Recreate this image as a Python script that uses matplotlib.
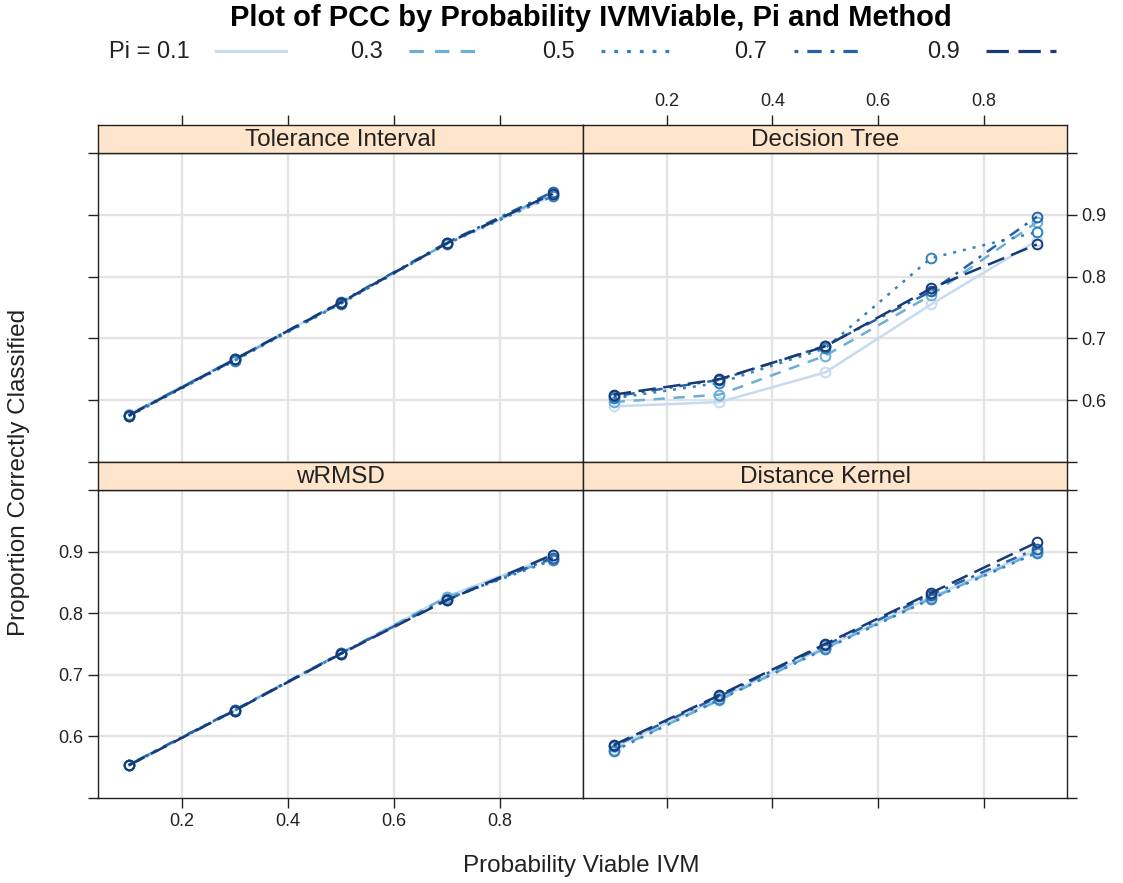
import numpy as np
import matplotlib
matplotlib.use("Agg")
import matplotlib.pyplot as plt
from matplotlib.lines import Line2D

plt.rcParams['font.family'] = ['Liberation Sans', 'DejaVu Sans']

# Данные
prob = [0.1, 0.3, 0.5, 0.7, 0.9]
pis = ['0.1', '0.3', '0.5', '0.7', '0.9']
methods = ['Tolerance Interval', 'Decision Tree', 'wRMSD', 'Distance Kernel']

pcc_ti = [[0.577, 0.667, 0.758, 0.853, 0.931],
          [0.575, 0.665, 0.757, 0.854, 0.934],
          [0.574, 0.664, 0.756, 0.853, 0.930],
          [0.576, 0.666, 0.759, 0.855, 0.937],
          [0.575, 0.666, 0.758, 0.854, 0.934]]
pcc_dt = [[0.590, 0.597, 0.645, 0.755, 0.858],
          [0.597, 0.609, 0.672, 0.770, 0.888],
          [0.603, 0.628, 0.684, 0.830, 0.872],
          [0.606, 0.633, 0.688, 0.776, 0.897],
          [0.609, 0.634, 0.687, 0.781, 0.852]]
pcc_wr = [[0.553, 0.642, 0.734, 0.827, 0.893],
          [0.554, 0.643, 0.735, 0.826, 0.888],
          [0.553, 0.642, 0.734, 0.823, 0.886],
          [0.554, 0.643, 0.735, 0.822, 0.890],
          [0.553, 0.642, 0.734, 0.821, 0.895]]
pcc_dk = [[0.582, 0.662, 0.745, 0.826, 0.902],
          [0.578, 0.659, 0.743, 0.824, 0.899],
          [0.576, 0.660, 0.742, 0.823, 0.898],
          [0.584, 0.665, 0.748, 0.830, 0.905],
          [0.586, 0.667, 0.750, 0.833, 0.915]]

colors = ['#c6dbef', '#6baed6', '#3182bd', '#2463a8', '#173a78']
dashes = [None, (4.5, 3.5), (1.2, 2.8), (1.2, 2.8, 4.5, 2.8), (7, 3)]
LW = 1.8

W, H = 1123, 883
fig = plt.figure(figsize=(W / 100, H / 100), dpi=100)

def fx(px):
    return px / W

def fy(py):
    return 1 - py / H

# Положение панелей (в пикселях)
cols = [(98, 583), (583, 1067)]
rows = [(153, 462), (490, 798)]
strip_h = 28

def style_line(ln, i):
    if dashes[i] is not None:
        ln.set_dashes(dashes[i])

panels = [(0, 0, pcc_ti), (0, 1, pcc_dt), (1, 0, pcc_wr), (1, 1, pcc_dk)]
for k, (r, c, data) in enumerate(panels):
    x0, x1 = cols[c]
    y0, y1 = rows[r]
    ax = fig.add_axes([fx(x0), fy(y1), fx(x1 - x0), (y1 - y0) / H])
    for i in range(len(pis)):
        ln, = ax.plot(prob, data[i], color=colors[i], lw=LW, marker='o',
                      markersize=7, markerfacecolor='none', markeredgewidth=1.4,
                      zorder=3 + i)
        style_line(ln, i)
    ax.set_xlim(0.042, 0.957)
    ax.set_ylim(0.5, 1.0)
    ax.set_xticks([0.2, 0.4, 0.6, 0.8])
    ax.set_yticks([0.6, 0.7, 0.8, 0.9])
    ax.set_yticks([0.5, 1.0], minor=True)
    ax.grid(True, color='#e3e3e3', lw=1.6, zorder=0)
    for s in ax.spines.values():
        s.set_linewidth(1.0)
        s.set_color('#222222')
    ax.tick_params(which='both', direction='out', length=7, width=1.0,
                   labelsize=13, colors='#222222',
                   bottom=False, top=False, left=False, right=False,
                   labelbottom=False, labelleft=False, labelright=False)
    if c == 0:
        ax.tick_params(which='both', left=True, labelleft=(r == 1))
    else:
        ax.tick_params(which='both', right=True, labelright=(r == 0))
    if r == 1:
        ax.tick_params(axis='x', bottom=True, labelbottom=(c == 0))
    ax.tick_params(axis='x', which='minor', bottom=False)

    # Полоса с названием метода
    sax = fig.add_axes([fx(x0), fy(y0), fx(x1 - x0), strip_h / H], sharex=ax)
    sax.set_facecolor('#ffe5cc')
    sax.set_yticks([])
    for s in sax.spines.values():
        s.set_linewidth(1.0)
        s.set_color('#222222')
    sax.tick_params(axis='x', direction='out', length=7, width=1.0, labelsize=13,
                    colors='#222222', bottom=False, labelbottom=False,
                    top=(r == 0), labeltop=(r == 0 and c == 1))
    sax.tick_params(axis='x', which='minor', top=False)
    sax.text(0.5, 0.45, methods[k], transform=sax.transAxes, ha='center',
             va='center', fontsize=17.5, color='#222222')

fig.text(fx(591), fy(18), 'Plot of PCC by Probability IVMViable, Pi and Method',
         ha='center', va='center', fontsize=21, fontweight='bold')
fig.text(fx(19), fy(472), 'Proportion Correctly Classified', rotation=90,
         ha='center', va='center', fontsize=17.5, color='#222222')
fig.text(fx(581), fy(866), 'Probability Viable IVM', ha='center', va='center',
         fontsize=17.5, color='#222222')

# Легенда
for i, p in enumerate(pis):
    lx = 216 + i * 192.5
    label = 'Pi = ' + p if i == 0 else p
    fig.text(fx(lx - 26), fy(52), label, ha='right', va='center',
             fontsize=17, color='#222222')
    ln = Line2D([fx(lx), fx(lx + 70)], [fy(51), fy(51)], color=colors[i],
                lw=LW + 0.5, transform=fig.transFigure)
    style_line(ln, i)
    fig.lines.append(ln)

fig.savefig('out.png', dpi=100)
